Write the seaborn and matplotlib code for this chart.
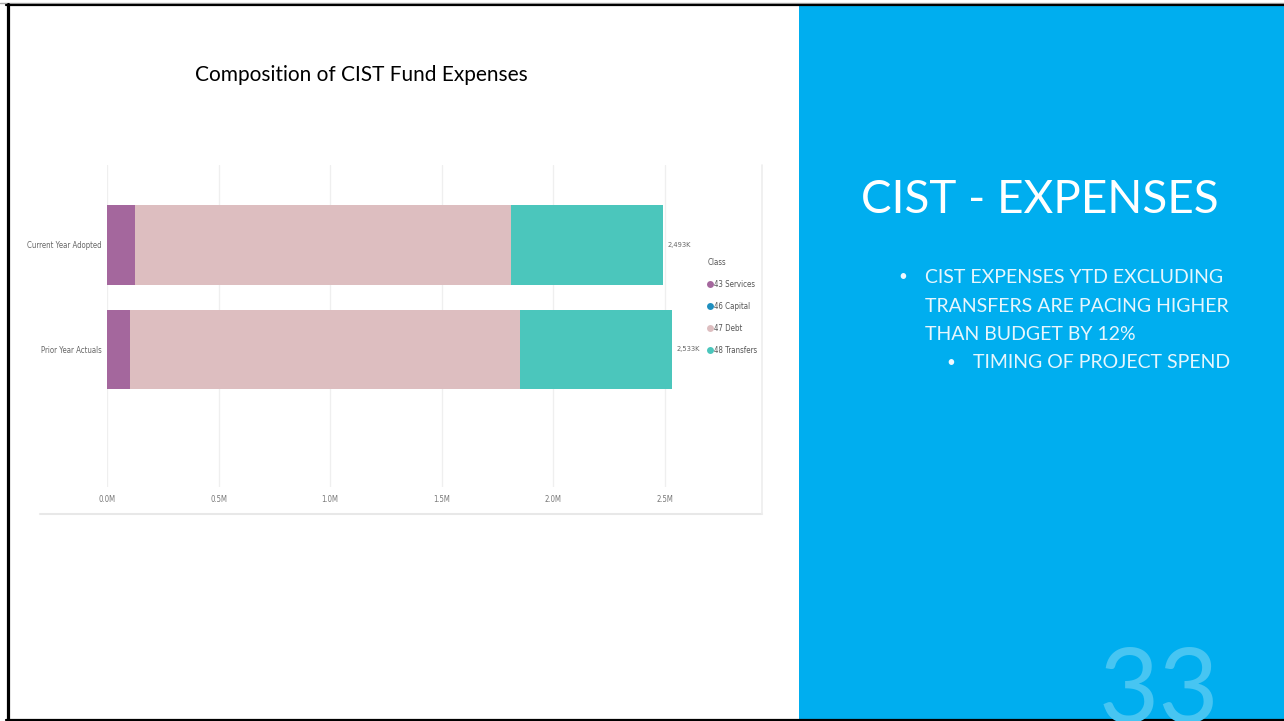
import matplotlib
matplotlib.use("Agg")
import matplotlib.pyplot as plt
from matplotlib.lines import Line2D
from matplotlib.patches import Rectangle
from matplotlib.ticker import FuncFormatter
import seaborn as sns
import pandas as pd

# Expense composition by class, in millions of dollars
categories = ["Current Year Adopted", "Prior Year Actuals"]
services = [0.125, 0.103]
capital = [0.0, 0.0]
debt = [1.685, 1.747]
transfers = [0.683, 0.683]
total_labels = ["2,493K", "2,533K"]
classes = ["43 Services", "46 Capital", "47 Debt", "48 Transfers"]
class_colors = ["#A4679D", "#1F8FBF", "#DDBEC0", "#4BC6BC"]
x_ticks = [0.0, 0.5, 1.0, 1.5, 2.0, 2.5]

bullets = ["CIST EXPENSES YTD EXCLUDING",
           "TRANSFERS ARE PACING HIGHER",
           "THAN BUDGET BY 12%"]
sub_bullet = "TIMING OF PROJECT SPEND"

sns.set_style("white")
plt.rcParams["font.family"] = ["Lato", "DejaVu Sans"]

W, H = 1284, 721
fig = plt.figure(figsize=(W / 100, H / 100), dpi=100)
fig.patch.set_facecolor("white")


def fx(px):
    return px / W


def fy(py):
    return 1 - py / H


df = pd.DataFrame({"category": categories, "services": services,
                   "capital": capital, "debt": debt, "transfers": transfers})
df["c_services"] = df["services"]
df["c_capital"] = df["c_services"] + df["capital"]
df["c_debt"] = df["c_capital"] + df["debt"]
df["c_transfers"] = df["c_debt"] + df["transfers"]

# chart area
ax = fig.add_axes([fx(107), fy(487), fx(762) - fx(107), fy(165) - fy(487)])
px_per_m = (665 - 107) / 2.5
ax.xaxis.grid(True, color="#EFEFEF", lw=0.9)
ax.set_axisbelow(True)

# stacked bars drawn as overlapping cumulative totals, outermost first
for col, color in zip(["c_transfers", "c_debt", "c_capital", "c_services"],
                      [class_colors[3], class_colors[2], class_colors[1], class_colors[0]]):
    sns.barplot(data=df, x=col, y="category", orient="h", color=color,
                width=0.765, saturation=1, ax=ax, linewidth=0)

ax.set_xlim(0, (762 - 107) / px_per_m)
ax.set_ylim(1 + (487 - 349.5) / 104.5, 0 - (245 - 165) / 104.5)
ax.set_xticks(x_ticks)
ax.xaxis.set_major_formatter(FuncFormatter(lambda v, p: f"{v:.1f}M"))
ax.set_xlabel("")
ax.set_ylabel("")
for s in ax.spines.values():
    s.set_visible(False)
small = ["Liberation Sans Narrow", "DejaVu Sans"]
ax.tick_params(axis="x", length=0, pad=6, labelsize=5.6, labelcolor="#777777")
ax.tick_params(axis="y", length=0, pad=4, labelsize=5.6, labelcolor="#666666")
for lab in ax.get_xticklabels() + ax.get_yticklabels():
    lab.set_family(small)
    lab.set_stretch("condensed")

for i, lab in enumerate(total_labels):
    ax.text(df["c_transfers"][i] + 4 / px_per_m, i, lab, ha="left", va="center",
            fontsize=5.4, color="#666666", family=small, stretch="condensed")

handles = [Line2D([], [], marker="o", ls="", markersize=5, markerfacecolor=c,
                  markeredgewidth=0) for c in class_colors]
leg = ax.legend(handles, classes, title="Class", loc="upper left",
                bbox_to_anchor=(fx(708), fy(258)), bbox_transform=fig.transFigure,
                frameon=False, labelspacing=1.65,
                handlelength=0.5, handletextpad=0.3, borderpad=0, borderaxespad=0,
                alignment="left", prop={"family": small, "size": 5.7,
                                        "stretch": "condensed"},
                title_fontproperties={"family": small, "size": 5.7,
                                      "stretch": "condensed"})
leg.get_title().set_color("#555555")
for t in leg.get_texts():
    t.set_color("#555555")

# faint frame around the chart image
fig.add_artist(Line2D([fx(40), fx(762)], [fy(514), fy(514)], color="#E8E8E8", lw=1.5))
fig.add_artist(Line2D([fx(762), fx(762)], [fy(165), fy(514)], color="#EDEDED", lw=1.2))

fig.text(fx(361), fy(75), "Composition of CIST Fund Expenses", ha="center",
         va="center", fontsize=15, color="black")

# right-hand blue panel
fig.add_artist(Rectangle((fx(799), 0), 1 - fx(799), fy(5), color="#00AEEF", lw=0, zorder=0))
fig.text(fx(1040), fy(200), "CIST - EXPENSES", ha="center", va="center",
         fontsize=33, color="white", fontweight="normal")
for k, line in enumerate(bullets):
    y = fy(277 + 29 * k)
    if k == 0:
        fig.text(fx(898), y, "•", ha="left", va="center", fontsize=11, color="#F0F8FF")
    fig.text(fx(925), y, line, ha="left", va="center", fontsize=14,
             color="#E6F6FD", fontweight="normal")
fig.text(fx(946), fy(363), "•", ha="left", va="center", fontsize=11, color="#F0F8FF")
fig.text(fx(973), fy(363), sub_bullet, ha="left", va="center", fontsize=14,
         color="#E6F6FD", fontweight="normal")
fig.text(fx(1159), fy(693), "33", ha="center", va="center", fontsize=75,
         color="#47C5F2", fontweight="normal")

# slide border
fig.add_artist(Line2D([0, 1], [fy(2.5), fy(2.5)], color="#AAAAAA", lw=1))
fig.add_artist(Line2D([fx(6), 1], [fy(4.5), fy(4.5)], color="black", lw=1.6))
fig.add_artist(Line2D([fx(7.5), fx(7.5)], [fy(4), fy(720)], color="black", lw=2.3))
fig.add_artist(Line2D([fx(6), 1], [fy(719.5), fy(719.5)], color="black", lw=1.6))

fig.savefig("out.png", dpi=100)
